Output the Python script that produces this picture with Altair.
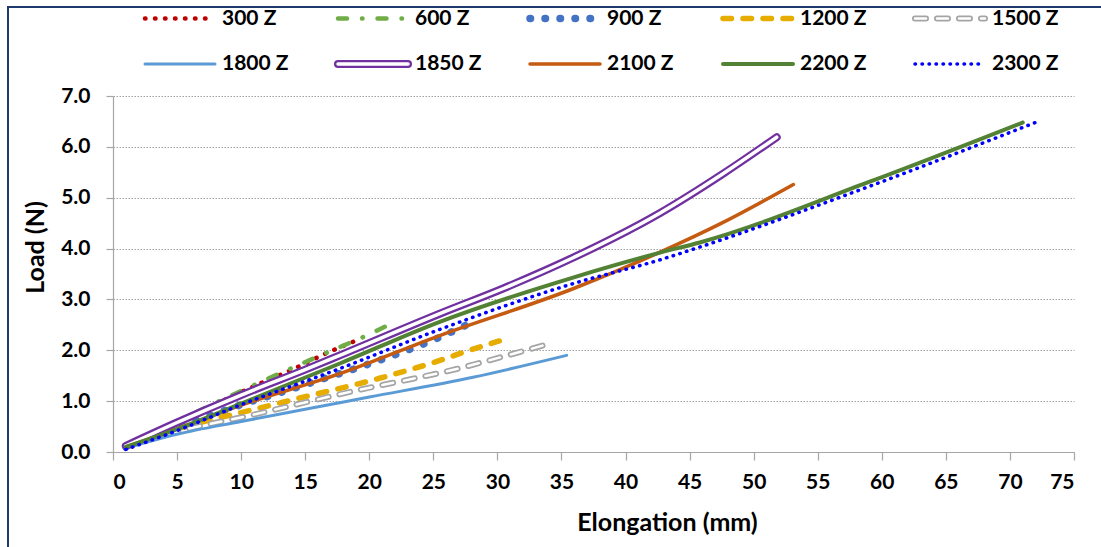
import altair as alt
import pandas as pd

series = ["300 Z", "600 Z", "900 Z", "1200 Z", "1500 Z",
          "1800 Z", "1850 Z", "2100 Z", "2200 Z", "2300 Z"]

x_300 = [1, 5, 8, 11.6, 13.9, 16.9, 18.5, 19.3]
y_300 = [0.1, 0.58, 0.94, 1.36, 1.61, 1.97, 2.14, 2.23]

x_600 = [1, 5, 10, 16.2, 20.3, 21.6]
y_600 = [0.1, 0.6, 1.2, 1.9, 2.35, 2.51]

x_900 = [1, 5, 10, 14.1, 16.4, 18.9, 21.2, 24.5, 28.3]
y_900 = [0.1, 0.48, 0.93, 1.25, 1.44, 1.64, 1.84, 2.15, 2.58]

x_1200 = [1, 5, 11.2, 14.4, 20.8, 25.5, 27.1, 30.5]
y_1200 = [0.1, 0.45, 0.85, 1.05, 1.45, 1.80, 1.94, 2.21]

x_1500 = [1, 5, 10.7, 20.1, 23.4, 27.1, 28.6, 34.2]
y_1500 = [0.1, 0.4, 0.72, 1.27, 1.44, 1.65, 1.75, 2.14]

x_1800 = [1, 5, 10, 15.4, 20, 28.1, 35.4]
y_1800 = [0.08, 0.35, 0.6, 0.86, 1.08, 1.47, 1.9]

x_1850 = [1, 5, 10, 15, 17.7, 25.5, 30.5, 35.9, 42.7, 47.6, 51.8]
y_1850 = [0.12, 0.58, 1.12, 1.62, 1.9, 2.72, 3.22, 3.82, 4.70, 5.47, 6.19]

x_2100 = [1, 5, 10, 17.7, 25.5, 35.9, 42.7, 47.5, 53.1]
y_2100 = [0.1, 0.45, 0.92, 1.54, 2.29, 3.21, 3.93, 4.5, 5.26]

x_2200 = [1, 5, 10, 17.7, 25.5, 35.9, 42.7, 45.8, 58.9, 71.0]
y_2200 = [0.1, 0.45, 0.95, 1.74, 2.56, 3.43, 3.92, 4.12, 5.3, 6.48]

x_2300 = [1, 5, 10, 17.7, 25.5, 35.9, 42.7, 45.8, 59.0, 72.1]
y_2300 = [0.05, 0.42, 0.93, 1.64, 2.41, 3.31, 3.78, 4.03, 5.22, 6.49]

xs = [x_300, x_600, x_900, x_1200, x_1500, x_1800, x_1850, x_2100, x_2200, x_2300]
ys = [y_300, y_600, y_900, y_1200, y_1500, y_1800, y_1850, y_2100, y_2200, y_2300]

x_ticks = list(range(0, 80, 5))
y_ticks = [0, 1, 2, 3, 4, 5, 6, 7]

# styles (kept apart from the data)
colors = ["#C00000", "#70AD47", "#4472C4", "#E6AD00", "#A5A5A5",
          "#5B9BD5", "#7030A0", "#C55A11", "#548235", "#0000FF"]
dashes = [[0.5, 9.5], [9, 15, 0.5, 15], [0.5, 14.5], [8.5, 11.5], [11, 11],
          None, None, None, None, [0.5, 6.5]]
widths = [4.5, 4.5, 7.5, 5.5, 6, 3, 8, 3.5, 4, 3.5]
inner_white = {"1500 Z": 2.5, "1850 Z": 3.5}

FONT = "Lato"

rows = []
for name, xv, yv in zip(series, xs, ys):
    for a, b in zip(xv, yv):
        rows.append({"series": name, "elong": a, "load": b})
df = pd.DataFrame(rows)

xscale = alt.Scale(domain=[0, 75], nice=False)
yscale = alt.Scale(domain=[0, 7], nice=False)

base_x = alt.X("elong:Q", scale=xscale,
               axis=alt.Axis(values=x_ticks, title="Elongation (mm)", grid=False,
                             titleX=554, titleY=70, titleBaseline="middle",
                             labelPadding=11, tickSize=8))
base_y = alt.Y("load:Q", scale=yscale,
               axis=alt.Axis(values=y_ticks, format=".1f", title="Load (N)",
                             titleX=-78, titleY=151, titleAngle=270,
                             titleAlign="center", titleBaseline="middle",
                             labelPadding=16, tickSize=7,
                             grid=True, gridDash=[1.5, 1.5], gridColor="#A0A0A0"))

layers = []
one = alt.Data(values=[{"k": 1}])

# legend layout (guide only)
col_px = [32, 225, 417, 610, 802]
row_px = [-77.5, -32]
sym_len = 70
label_gap = 7

for i, name in enumerate(series):
    props = dict(color=colors[i], strokeWidth=widths[i], strokeCap="round", strokeJoin="round")
    if dashes[i] is not None:
        props["strokeDash"] = dashes[i]
    sub = alt.Chart(df).transform_filter(alt.datum.series == name)
    if i == 0:
        layers.append(sub.mark_line(interpolate="monotone", **props).encode(x=base_x, y=base_y))
    else:
        layers.append(sub.mark_line(interpolate="monotone", **props).encode(x="elong:Q", y="load:Q"))
    if name in inner_white:
        wprops = dict(color="white", strokeWidth=inner_white[name], strokeCap="round", strokeJoin="round")
        if dashes[i] is not None:
            wprops["strokeDash"] = dashes[i]
        layers.append(sub.mark_line(interpolate="monotone", **wprops).encode(x="elong:Q", y="load:Q"))

    # legend entry
    cx = col_px[i % 5]
    ry = row_px[i // 5]
    lprops = dict(props)
    lprops.pop("strokeJoin")
    layers.append(alt.Chart(one).mark_rule(**lprops).encode(
        x=alt.value(cx), x2=alt.value(cx + sym_len), y=alt.value(ry)))
    if name in inner_white:
        wl = dict(color="white", strokeWidth=inner_white[name], strokeCap="round")
        if dashes[i] is not None:
            wl["strokeDash"] = dashes[i]
        layers.append(alt.Chart(one).mark_rule(**wl).encode(
            x=alt.value(cx), x2=alt.value(cx + sym_len), y=alt.value(ry)))
    layers.append(alt.Chart(one).mark_text(
        align="left", baseline="middle", font=FONT, fontSize=21, fontWeight="bold", color="#000000"
    ).encode(x=alt.value(cx + sym_len + label_gap), y=alt.value(ry), text=alt.value(name)))

# outer frame of the figure
layers.append(alt.Chart(one).mark_rule(color="#1F3A6E", strokeWidth=2).encode(
    x=alt.value(-105), y=alt.value(-90), y2=alt.value(460)))
layers.append(alt.Chart(one).mark_rule(color="#1F3A6E", strokeWidth=2).encode(
    x=alt.value(-105), x2=alt.value(1000), y=alt.value(-89)))

chart = alt.layer(*layers).properties(
    width=961, height=356,
    padding={"left": 113, "top": 96, "right": 27, "bottom": 95},
    autosize=alt.AutoSizeParams(type="none"),
    background="white",
).configure_axis(
    labelFont=FONT, labelFontSize=21, labelFontWeight="bold", labelColor="#000000",
    titleFont=FONT, titleFontSize=25, titleFontWeight="bold", titleColor="#000000",
    domainColor="#A6A6A6", tickColor="#A6A6A6", domainWidth=1.2, tickWidth=1.2,
).configure_view(strokeWidth=0)

chart.save("out.html", embed_options={"renderer": "svg", "actions": False})
